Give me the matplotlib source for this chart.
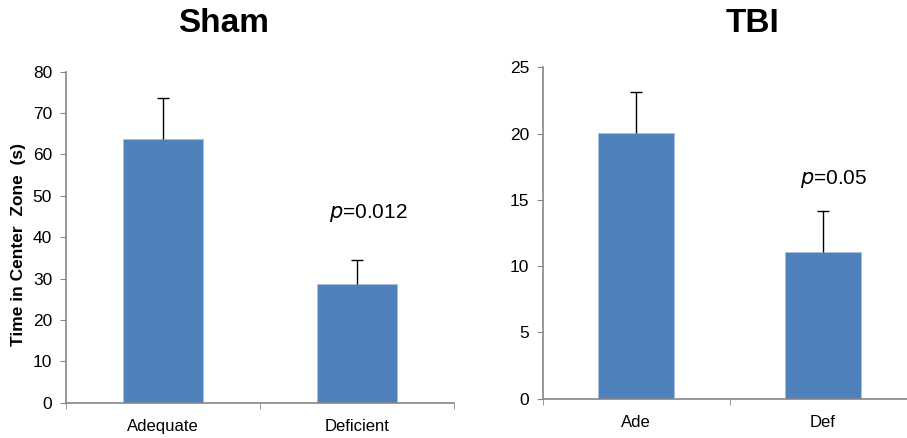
import matplotlib
matplotlib.use("Agg")
import matplotlib.pyplot as plt

plt.rcParams['font.family'] = ['Liberation Sans', 'DejaVu Sans']

# Sham panel
sham_groups = ['Adequate', 'Deficient']
sham_means = [63.8, 28.8]
sham_err = [9.9, 5.8]

# TBI panel
tbi_groups = ['Ade', 'Def']
tbi_means = [20.05, 11.07]
tbi_err = [3.1, 3.1]

bar_color = '#4F81BD'
axis_color = '#868686'

W, H = 907, 438
fig = plt.figure(figsize=(W / 100, H / 100), dpi=100)


def panel(rect, groups, means, errs, ymax, ystep, ptext, p_x, p_y):
    ax = fig.add_axes([rect[0] / W, 1 - rect[3] / H,
                       (rect[2] - rect[0]) / W, (rect[3] - rect[1]) / H])
    x = list(range(len(groups)))
    ax.bar(x, means, width=0.41, color=bar_color, edgecolor='#A7BFDE',
           linewidth=0.6, zorder=2)
    eb = ax.errorbar(x, means, yerr=[[0] * len(errs), errs], fmt='none',
                     ecolor='black', elinewidth=1.0, capsize=4, capthick=1.0,
                     zorder=3)
    # only the upper caps
    for cap in eb[1]:
        if list(cap.get_ydata()) == list(means):
            cap.set_visible(False)
    ax.set_xlim(-0.5, len(groups) - 0.5)
    ax.set_ylim(0, ymax)
    ax.set_yticks(range(0, ymax + 1, ystep))
    ax.set_xticks(x)
    ax.set_xticklabels(groups, fontsize=12)
    ax.set_xticks([-0.5, 0.5, 1.5], minor=True)
    ax.tick_params(axis='x', which='major', length=0, pad=12)
    ax.tick_params(axis='x', which='minor', length=4, color=axis_color,
                   direction='out')
    ax.tick_params(axis='y', length=4, color=axis_color, labelsize=12.5,
                   direction='out', pad=6)
    for s in ['top', 'right']:
        ax.spines[s].set_visible(False)
    for s in ['left', 'bottom']:
        ax.spines[s].set_color(axis_color)
        ax.spines[s].set_linewidth(1.2)
    ax.text(p_x, p_y, ptext, ha='center', va='center', fontsize=15)
    return ax


ax1 = panel((66, 71.7, 454, 402.7), sham_groups, sham_means, sham_err,
            80, 10, '$\\it{p}$=0.012', 1.057, 45.8)

ax2 = panel((543, 67.3, 916, 398.7), tbi_groups, tbi_means, tbi_err,
            25, 5, '$\\it{p}$=0.05', 1.06, 16.6)

fig.text(19 / W, 1 - 244.5 / H, 'Time in Center  Zone  (s)', rotation=90,
         ha='center', va='center', fontsize=12.5, fontweight='bold')

fig.text(223.5 / W, 1 - 24 / H, 'Sham', ha='center', va='center',
         fontsize=24, fontweight='bold')
fig.text(752 / W, 1 - 24 / H, 'TBI', ha='center', va='center',
         fontsize=24, fontweight='bold')

fig.savefig('out.png', dpi=100)
